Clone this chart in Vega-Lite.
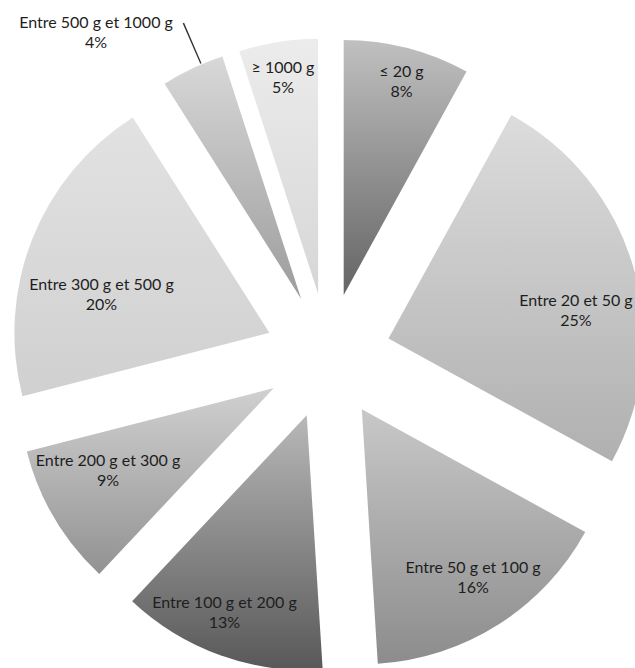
{
  "$schema": "https://vega.github.io/schema/vega-lite/v6.json",
  "width": 614,
  "height": 624,
  "autosize": {"type": "none"},
  "padding": {"left": 21, "top": 44, "right": 0, "bottom": 0},
  "background": "#ffffff",
  "view": {"stroke": null},
  "config": {"text": {"font": "Lato", "fontSize": 16, "color": "#1e1e1e"}},
  "data": {
    "values": [
      {"label": "≤ 20 g", "share": 0.08, "order": 1},
      {"label": "Entre 20 et 50 g", "share": 0.25, "order": 2},
      {"label": "Entre 50 g et 100 g", "share": 0.16, "order": 3},
      {"label": "Entre 100 g et 200 g", "share": 0.13, "order": 4},
      {"label": "Entre 200 g et 300 g", "share": 0.09, "order": 5},
      {"label": "Entre 300 g et 500 g", "share": 0.20, "order": 6},
      {"label": "Entre 500 g et 1000 g", "share": 0.04, "order": 7},
      {"label": "≥ 1000 g", "share": 0.05, "order": 8}
    ]
  },
  "transform": [
    {"stack": "share", "groupby": [], "sort": [{"field": "order", "order": "ascending"}], "as": ["t0", "t1"]}
  ],
  "encoding": {
    "theta": {"field": "t0", "type": "quantitative", "stack": null, "scale": {"domain": [0, 1]}}
  },
  "layer": [
    {
      "transform": [{"filter": "datum.label === '≤ 20 g'"}],
      "layer": [
        {"mark": {"type": "arc", "outerRadius": 255, "xOffset": 15.7, "yOffset": -61.0,
          "fill": {"gradient": "linear", "x1": 0, "y1": 0, "x2": 0, "y2": 1, "stops": [{"offset": 0, "color": "#c0c0c0"}, {"offset": 1, "color": "#646464"}]}},
         "encoding": {"theta2": {"field": "t1"}}},
        {"mark": {"type": "text", "radius": 283.7, "thetaOffset": 0.2621, "dy": -10}, "encoding": {"text": {"field": "label", "type": "nominal"}}},
        {"mark": {"type": "text", "radius": 283.7, "thetaOffset": 0.2621, "dy": 10}, "encoding": {"text": {"field": "share", "type": "quantitative", "format": ".0%"}}}
      ]
    },
    {
      "transform": [{"filter": "datum.label === 'Entre 20 et 50 g'"}],
      "layer": [
        {"mark": {"type": "arc", "outerRadius": 255, "xOffset": 60.5, "yOffset": -17.6,
          "fill": {"gradient": "linear", "x1": 0, "y1": 0, "x2": 0, "y2": 1, "stops": [{"offset": 0, "color": "#dcdcdc"}, {"offset": 1, "color": "#b0b0b0"}]}},
         "encoding": {"theta2": {"field": "t1"}}},
        {"mark": {"type": "text", "radius": 252.0, "thetaOffset": 0.8887, "dy": -10}, "encoding": {"text": {"field": "label", "type": "nominal"}}},
        {"mark": {"type": "text", "radius": 252.0, "thetaOffset": 0.8887, "dy": 10}, "encoding": {"text": {"field": "share", "type": "quantitative", "format": ".0%"}}}
      ]
    },
    {
      "transform": [{"filter": "datum.label === 'Entre 50 g et 100 g'"}],
      "layer": [
        {"mark": {"type": "arc", "outerRadius": 255, "xOffset": 33.8, "yOffset": 53.2,
          "fill": {"gradient": "linear", "x1": 0, "y1": 0, "x2": 0, "y2": 1, "stops": [{"offset": 0, "color": "#c8c8c8"}, {"offset": 1, "color": "#8c8c8c"}]}},
         "encoding": {"theta2": {"field": "t1"}}},
        {"mark": {"type": "text", "radius": 265.2, "thetaOffset": 0.4895, "dy": -10}, "encoding": {"text": {"field": "label", "type": "nominal"}}},
        {"mark": {"type": "text", "radius": 265.2, "thetaOffset": 0.4895, "dy": 10}, "encoding": {"text": {"field": "share", "type": "quantitative", "format": ".0%"}}}
      ]
    },
    {
      "transform": [{"filter": "datum.label === 'Entre 100 g et 200 g'"}],
      "layer": [
        {"mark": {"type": "arc", "outerRadius": 255, "xOffset": -21.3, "yOffset": 59.3,
          "fill": {"gradient": "linear", "x1": 0, "y1": 0, "x2": 0, "y2": 1, "stops": [{"offset": 0, "color": "#b8b8b8"}, {"offset": 1, "color": "#585858"}]}},
         "encoding": {"theta2": {"field": "t1"}}},
        {"mark": {"type": "text", "radius": 277.1, "thetaOffset": 0.4457, "dy": -10}, "encoding": {"text": {"field": "label", "type": "nominal"}}},
        {"mark": {"type": "text", "radius": 277.1, "thetaOffset": 0.4457, "dy": 10}, "encoding": {"text": {"field": "share", "type": "quantitative", "format": ".0%"}}}
      ]
    },
    {
      "transform": [{"filter": "datum.label === 'Entre 200 g et 300 g'"}],
      "layer": [
        {"mark": {"type": "arc", "outerRadius": 255, "xOffset": -54.2, "yOffset": 32.1,
          "fill": {"gradient": "linear", "x1": 0, "y1": 0, "x2": 0, "y2": 1, "stops": [{"offset": 0, "color": "#d0d0d0"}, {"offset": 1, "color": "#929292"}]}},
         "encoding": {"theta2": {"field": "t1"}}},
        {"mark": {"type": "text", "radius": 248.2, "thetaOffset": 0.3351, "dy": -10}, "encoding": {"text": {"field": "label", "type": "nominal"}}},
        {"mark": {"type": "text", "radius": 248.2, "thetaOffset": 0.3351, "dy": 10}, "encoding": {"text": {"field": "share", "type": "quantitative", "format": ".0%"}}}
      ]
    },
    {
      "transform": [{"filter": "datum.label === 'Entre 300 g et 500 g'"}],
      "layer": [
        {"mark": {"type": "arc", "outerRadius": 255, "xOffset": -58.6, "yOffset": -23.2,
          "fill": {"gradient": "linear", "x1": 0, "y1": 0, "x2": 0, "y2": 1, "stops": [{"offset": 0, "color": "#e2e2e2"}, {"offset": 1, "color": "#d0d0d0"}]}},
         "encoding": {"theta2": {"field": "t1"}}},
        {"mark": {"type": "text", "radius": 234.7, "thetaOffset": 0.5164, "dy": -10}, "encoding": {"text": {"field": "label", "type": "nominal"}}},
        {"mark": {"type": "text", "radius": 234.7, "thetaOffset": 0.5164, "dy": 10}, "encoding": {"text": {"field": "share", "type": "quantitative", "format": ".0%"}}}
      ]
    },
    {
      "transform": [{"filter": "datum.label === 'Entre 500 g et 1000 g'"}],
      "layer": [
        {"mark": {"type": "arc", "outerRadius": 255, "xOffset": -26.8, "yOffset": -57.0,
          "fill": {"gradient": "linear", "x1": 0, "y1": 0, "x2": 0, "y2": 1, "stops": [{"offset": 0, "color": "#d8d8d8"}, {"offset": 1, "color": "#9c9c9c"}]}},
         "encoding": {"theta2": {"field": "t1"}}},
        {"mark": {"type": "arc", "innerRadius": 319, "outerRadius": 363, "thetaOffset": 0.1536, "theta2Offset": 0.1578, "fill": "#333333"},
         "encoding": {"theta2": {"field": "t0"}}},
        {"mark": {"type": "text", "radius": 397.7, "thetaOffset": -0.0574, "dy": -10}, "encoding": {"text": {"field": "label", "type": "nominal"}}},
        {"mark": {"type": "text", "radius": 397.7, "thetaOffset": -0.0574, "dy": 10}, "encoding": {"text": {"field": "share", "type": "quantitative", "format": ".0%"}}}
      ]
    },
    {
      "transform": [{"filter": "datum.label === '≥ 1000 g'"}],
      "layer": [
        {"mark": {"type": "arc", "outerRadius": 255, "xOffset": -9.9, "yOffset": -62.2,
          "fill": {"gradient": "linear", "x1": 0, "y1": 0, "x2": 0, "y2": 1, "stops": [{"offset": 0, "color": "#ececec"}, {"offset": 1, "color": "#d6d6d6"}]}},
         "encoding": {"theta2": {"field": "t1"}}},
        {"mark": {"type": "text", "radius": 282.1, "thetaOffset": 0.1539, "dy": -10}, "encoding": {"text": {"field": "label", "type": "nominal"}}},
        {"mark": {"type": "text", "radius": 282.1, "thetaOffset": 0.1539, "dy": 10}, "encoding": {"text": {"field": "share", "type": "quantitative", "format": ".0%"}}}
      ]
    }
  ]
}
